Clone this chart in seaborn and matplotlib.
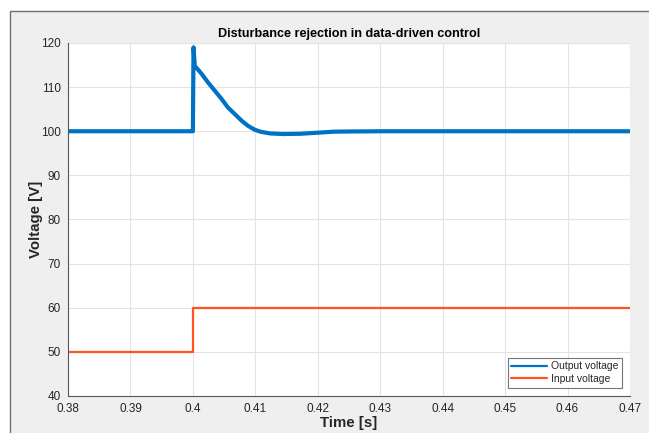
import numpy as np
import pandas as pd
import matplotlib
matplotlib.use("Agg")
import matplotlib.pyplot as plt
from matplotlib.patches import Rectangle
import seaborn as sns

# Output voltage: step disturbance at t = 0.4 s and the controller's recovery
t_out = [0.3800, 0.3999, 0.4000, 0.4001, 0.4003, 0.4014, 0.4024, 0.4035, 0.4046,
         0.4056, 0.4067, 0.4078, 0.4088, 0.4099, 0.4108, 0.4124, 0.4145, 0.4172,
         0.4199, 0.4225, 0.4252, 0.4279, 0.4300, 0.4700]
v_out = [100.0, 100.0, 100.0, 119.0, 114.85, 113.0, 111.1, 109.2, 107.3,
         105.4, 103.9, 102.4, 101.25, 100.35, 99.9, 99.5, 99.37, 99.43,
         99.66, 99.9, 99.95, 99.97, 100.0, 100.0]

# Input voltage: step from 50 V to 60 V
t_in = [0.380, 0.400, 0.400, 0.470]
v_in = [50.0, 50.0, 60.0, 60.0]

x_ticks = [0.38, 0.39, 0.40, 0.41, 0.42, 0.43, 0.44, 0.45, 0.46, 0.47]
y_ticks = [40, 50, 60, 70, 80, 90, 100, 110, 120]

blue = "#0072C6"
orange = "#FF5420"
ink = "#262626"

sns.set_theme(style="white")
plt.rcParams["font.family"] = ["Liberation Sans", "DejaVu Sans"]

fig = plt.figure(figsize=(6.49, 4.33), dpi=100)
fig.patch.set_facecolor("white")

# grey figure panel with a thin frame on top and left
W, H = 649, 433
fig.add_artist(Rectangle((9.5 / W, -0.1), 1.2, 1 - 10.5 / H + 0.1,
                         transform=fig.transFigure, facecolor="#efefef",
                         edgecolor="#707070", linewidth=1.0, zorder=-10))

ax = fig.add_axes([68 / W, 37 / H, (630 - 68) / W, (396 - 43) / H])
ax.set_facecolor("white")

df_out = pd.DataFrame({"t": t_out, "v": v_out})
df_in = pd.DataFrame({"t": t_in, "v": v_in})
sns.lineplot(data=df_out, x="t", y="v", ax=ax, color=blue, lw=3.0,
             sort=False, estimator=None, label="Output voltage")
sns.lineplot(data=df_in, x="t", y="v", ax=ax, color=orange, lw=1.6,
             sort=False, estimator=None, label="Input voltage")

ax.set_xlim(0.38, 0.47)
ax.set_ylim(40, 120)
ax.set_xticks(x_ticks)
ax.set_xticklabels([f"{v:g}" for v in x_ticks])
ax.set_yticks(y_ticks)
ax.set_yticklabels([f"{v:g}" for v in y_ticks])

ax.grid(True, color="#e3e3e3", lw=0.8)
ax.set_axisbelow(True)
for side in ("top", "right"):
    ax.spines[side].set_visible(False)
for side in ("left", "bottom"):
    ax.spines[side].set_color("#555555")
    ax.spines[side].set_linewidth(0.8)
ax.tick_params(direction="in", length=4, width=0.8, colors="#555555",
               labelcolor=ink, labelsize=8.5, pad=5)

ax.set_title("Disturbance rejection in data-driven control",
             fontsize=9.1, fontweight="bold", color="black", pad=4)
ax.set_xlabel("Time [s]", fontsize=10.8, fontweight="bold", color=ink, labelpad=1)
ax.set_ylabel("Voltage [V]", fontsize=10.8, fontweight="bold", color=ink, labelpad=-1)

leg = ax.legend(loc="lower right", fontsize=7.5, frameon=True, fancybox=False,
                handlelength=3.4, handletextpad=0.35, borderpad=0.35,
                labelspacing=0.25, borderaxespad=0.8)
leg.get_frame().set_edgecolor("#555555")
leg.get_frame().set_linewidth(0.8)
for line in leg.get_lines():
    line.set_linewidth(1.6)

fig.savefig("out.png", dpi=100, facecolor=fig.get_facecolor())
